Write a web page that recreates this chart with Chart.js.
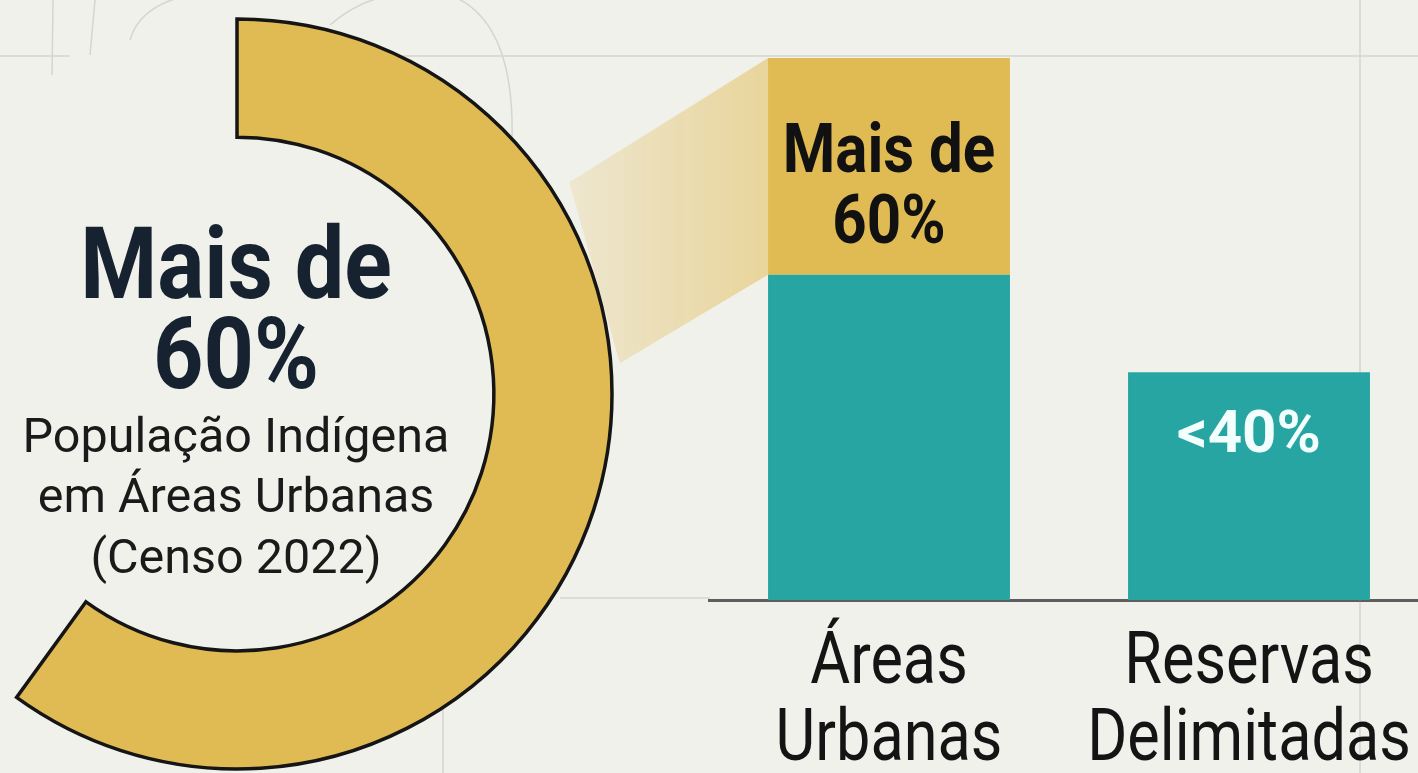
<!DOCTYPE html>
<html lang="pt-BR">
<head>
<meta charset="utf-8">
<title>População indígena em áreas urbanas</title>
<script src="https://cdn.jsdelivr.net/npm/chart.js@4/dist/chart.umd.min.js"></script>
<style>
  html, body { margin: 0; padding: 0; }
  body { width: 1418px; height: 773px; overflow: hidden; position: relative; background: #f1f1ec; }
  canvas { position: absolute; }
  #bars { left: 0; top: 0; z-index: 1; }
  #arc { z-index: 2; }
</style>
</head>
<body>
<canvas id="bars" width="1440" height="773"></canvas>
<canvas id="arc" width="780" height="780"></canvas>
<script>
// data
const categories = [['Áreas', 'Urbanas'], ['Reservas', 'Delimitadas']]
const baseValues = [60, 42]        // teal part
const highlightValues = [40, null] // gold part on top
const baseLabels = [null, ['<40%']]
const highlightLabels = [['Mais de', '60%'], null]

const arcShare = [60, 40]
const arcLabels = ['Áreas urbanas', 'Outras']
const arcTitle = ['Mais de', '60%']
const arcCaption = ['População Indígena', 'em Áreas Urbanas', '(Censo 2022)']

const GOLD = '#e0ba53'
const TEAL = '#27a5a3'
const ARC_LEFT = -153
const ARC_TOP = 4

// draw centred text, squeezed horizontally (condensed look)
function drawText (ctx, text, x, y, font, color, sx) {
    ctx.save()
    ctx.font = font
    ctx.fillStyle = color
    ctx.textAlign = 'center'
    ctx.textBaseline = 'alphabetic'
    ctx.translate(x, y)
    ctx.scale(sx, 1)
    ctx.fillText(text, 0, 0)
    ctx.restore()
}

// the big gold ring (60% of a circle)
const arcCanvas = document.getElementById('arc')
arcCanvas.style.left = ARC_LEFT + 'px'
arcCanvas.style.top = ARC_TOP + 'px'

const arcText = {
    id: 'arcText',
    afterDraw (chart) {
        const el = chart.getDatasetMeta(0).data[0]
        const ctx = chart.ctx
        const bold = [-96, -6]
        arcTitle.forEach((t, i) => drawText(ctx, t, el.x - 1, el.y + bold[i], 'bold 100px Roboto', '#162230', 0.88))
        const reg = [58, 118, 179]
        arcCaption.forEach((t, i) => drawText(ctx, t, el.x - 1, el.y + reg[i], '48px Roboto', '#1a1a1a', 1.01))
    }
}

const arcChart = new Chart(arcCanvas, {
    type: 'doughnut',
    data: {
        labels: arcLabels,
        datasets: [{
            data: arcShare,
            backgroundColor: [GOLD, 'rgba(0,0,0,0)'],
            borderColor: ['#151515', 'rgba(0,0,0,0)'],
            borderWidth: [3.5, 0],
            borderJoinStyle: 'miter'
        }]
    },
    options: {
        responsive: false,
        animation: false,
        events: [],
        radius: 375,
        cutout: '68.5%',
        plugins: { legend: { display: false }, tooltip: { enabled: false } }
    },
    plugins: [arcText]
})

// faint sketch lines of the backdrop + the pale band joining ring and bar
const backdrop = {
    id: 'backdrop',
    beforeDatasetsDraw (chart) {
        const ctx = chart.ctx
        ctx.save()
        ctx.strokeStyle = 'rgba(150,150,145,0.3)'
        ctx.lineWidth = 1.5
        ctx.beginPath()
        ctx.moveTo(0, 56); ctx.lineTo(70, 56)
        ctx.moveTo(240, 56); ctx.lineTo(1440, 56)
        ctx.moveTo(1360, 0); ctx.lineTo(1360, 773)
        ctx.moveTo(53, 0); ctx.lineTo(52, 75)
        ctx.moveTo(95, 0); ctx.lineTo(90, 55)
        ctx.moveTo(130, 40); ctx.quadraticCurveTo(140, 5, 190, -5)
        ctx.moveTo(330, 25); ctx.quadraticCurveTo(370, -10, 420, -5)
        ctx.moveTo(450, -5); ctx.quadraticCurveTo(515, 20, 512, 140)
        ctx.moveTo(560, 598); ctx.lineTo(710, 598)
        ctx.moveTo(443, 650); ctx.lineTo(443, 773)
        ctx.stroke()

        // band from the ring to the gold segment
        const arcEl = arcChart.getDatasetMeta(0).data[0]
        const cx = ARC_LEFT + arcEl.x
        const cy = ARC_TOP + arcEl.y
        const pt = (deg, d) => {
            const a = deg * Math.PI / 180
            return [cx + d * Math.sin(a), cy - d * Math.cos(a)]
        }
        const seg = chart.getDatasetMeta(1).data[0]
        const left = seg.x - seg.width / 2
        const p1 = pt(57.5, arcEl.outerRadius + 19)
        const p2 = pt(85.4, arcEl.outerRadius + 9)
        const grad = ctx.createLinearGradient(p1[0], 0, left, 0)
        grad.addColorStop(0, 'rgba(226,190,90,0.2)')
        grad.addColorStop(1, 'rgba(226,190,90,0.55)')
        ctx.fillStyle = grad
        ctx.beginPath()
        ctx.moveTo(p1[0], p1[1])
        ctx.lineTo(left, seg.y)
        ctx.lineTo(left, seg.base)
        ctx.lineTo(p2[0], p2[1])
        ctx.closePath()
        ctx.fill()
        ctx.restore()
    }
}

// value labels inside the bars and the category labels under the axis
const barText = {
    id: 'barText',
    afterDraw (chart) {
        const ctx = chart.ctx
        const gold = chart.getDatasetMeta(1).data
        const teal = chart.getDatasetMeta(0).data
        highlightLabels.forEach((lines, i) => {
            if (!lines) return
            const el = gold[i]
            lines.forEach((t, j) => drawText(ctx, t, el.x, el.y + 114 + j * 71, 'bold 69px Roboto', '#111111', 0.87))
        })
        baseLabels.forEach((lines, i) => {
            if (!lines) return
            const el = teal[i]
            lines.forEach((t, j) => drawText(ctx, t, el.x, el.y + 80 + j * 71, 'bold 60px Roboto', '#f3fffd', 1.0))
        })
        const xs = chart.scales.x
        const bottom = chart.chartArea.bottom
        categories.forEach((lines, i) => {
            const x = xs.getPixelForValue(i)
            lines.forEach((t, j) => drawText(ctx, t, x, bottom + 83 + j * 77, '72px Roboto', '#141414', 0.85))
        })
    }
}

new Chart(document.getElementById('bars'), {
    type: 'bar',
    data: {
        labels: categories,
        datasets: [
            { label: 'Base', data: baseValues, backgroundColor: TEAL, categoryPercentage: 1, barPercentage: 0.672 },
            { label: 'Destaque', data: highlightValues, backgroundColor: GOLD, categoryPercentage: 1, barPercentage: 0.672 }
        ]
    },
    options: {
        responsive: false,
        animation: false,
        events: [],
        layout: { padding: { left: 709, right: 11, top: 58, bottom: 0 } },
        plugins: { legend: { display: false }, tooltip: { enabled: false } },
        scales: {
            x: {
                stacked: true,
                grid: { display: false, drawTicks: false },
                border: { display: true, color: '#5e5e5e', width: 3 },
                ticks: { display: false },
                afterFit (s) { s.height = 173 }
            },
            y: { stacked: true, display: false, min: 0, max: 100 }
        }
    },
    plugins: [backdrop, barText]
})
</script>
</body>
</html>
